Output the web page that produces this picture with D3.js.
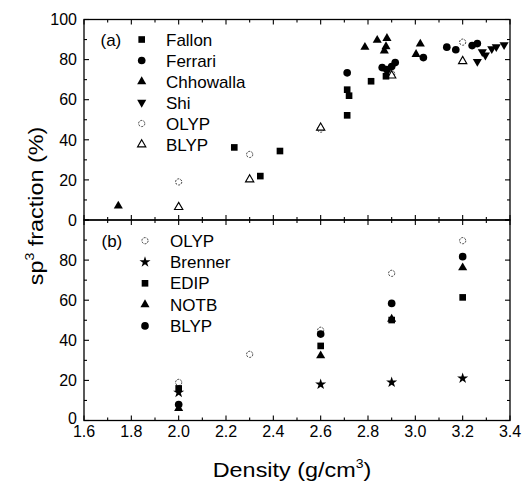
<!DOCTYPE html>
<html><head><meta charset="utf-8">
<script src="https://cdn.jsdelivr.net/npm/d3@7/dist/d3.min.js"></script>
<style>body{margin:0;background:#fff}svg{display:block;font-family:"Liberation Sans",Arial,sans-serif}</style>
</head><body><svg id="c" width="524" height="483"></svg>
<script>
// ---------- data ----------
const xTicks = [1.6,1.8,2.0,2.2,2.4,2.6,2.8,3.0,3.2,3.4];
const yTicksA = [0,20,40,60,80,100];
const yTicksB = [0,20,40,60,80];

// panel (a)
const fallonX = [2.235,2.345,2.428,2.712,2.712,2.72,2.813,2.876];
const fallonY = [36.2,21.9,34.4,52.2,65,62,69.2,71.7];
const ferrariX = [2.712,2.86,2.88,2.9,2.915,3.034,3.133,3.171,3.24,3.262];
const ferrariY = [73.4,76,75,76.5,78.5,81,86.2,84.9,87,88];
const chhowallaX = [1.745,2.787,2.839,2.88,2.876,2.869,3.021,3.003];
const chhowallaY = [7,86.2,89.7,90.6,86.5,84.4,87.8,82.6];
const shiX = [3.262,3.283,3.296,3.323,3.342,3.375];
const shiY = [79,83.9,82.2,85.4,86.4,87.4];
const olypAX = [2.0,2.3,2.6,2.9,3.2];
const olypAY = [19,32.7,45.3,73,88.7];
const blypAX = [2.0,2.3,2.6,2.9,3.2];
const blypAY = [6.4,20.2,46,72,79.2];

// panel (b)
const densB = [2.0,2.6,2.9,3.2];
const olypBX = [2.0,2.3,2.6,2.9,3.2];
const olypBY = [19,33,45,73.4,89.7];
const brennerY = [14,18,19,21];
const edipY = [16,37.2,50.1,61.4];
const notbY = [6,32.3,50.6,76.2];
const blypBY = [8,43.1,58.4,81.7];

const legendA = ["Fallon","Ferrari","Chhowalla","Shi","OLYP","BLYP"];
const legendB = ["OLYP","Brenner","EDIP","NOTB","BLYP"];

// ---------- layout ----------
const svg = d3.select("#c");
const L = 84, R = 510, TA = 19.5, MID = 220, BB = 420.5;
const x = d3.scaleLinear().domain([1.6,3.4]).range([L,R]);
const yA = d3.scaleLinear().domain([0,100]).range([MID,TA]);
const yB = d3.scaleLinear().domain([0,100]).range([BB,MID]);

const FS = 16;
function axes(y, ticks, top, bottom){
  const g = svg.append("g");
  const majX = d3.range(1.6,3.41,0.2), minX = d3.range(1.7,3.4,0.2);
  const majY = d3.range(0,101,20), minY = d3.range(10,100,20);
  const tk = (x1,y1,x2,y2)=>g.append("line").attr("x1",x1).attr("y1",y1).attr("x2",x2).attr("y2",y2).attr("stroke","#000").attr("stroke-width",1.1);
  majX.forEach(v=>{tk(x(v),bottom,x(v),bottom-5); tk(x(v),top,x(v),top+5);});
  minX.forEach(v=>{tk(x(v),bottom,x(v),bottom-3); tk(x(v),top,x(v),top+3);});
  majY.forEach(v=>{tk(L,y(v),L+5,y(v)); tk(R,y(v),R-5,y(v));});
  minY.forEach(v=>{tk(L,y(v),L+3,y(v)); tk(R,y(v),R-3,y(v));});
  g.append("rect").attr("x",L).attr("y",top).attr("width",R-L).attr("height",bottom-top)
    .attr("fill","none").attr("stroke","#000").attr("stroke-width",1.3);
  g.selectAll("text.yl").data(ticks).enter().append("text")
    .attr("x",L-7).attr("y",d=>y(d)-(d===0&&bottom===BB?2:0)).attr("dy","0.36em").attr("text-anchor","end")
    .attr("font-size",FS).text(d=>d);
}
axes(yA, yTicksA, TA, MID);
axes(yB, yTicksB, MID, BB);

svg.selectAll("text.xl").data(xTicks).enter().append("text")
  .attr("x",d=>x(d)).attr("y",437).attr("text-anchor","middle").attr("font-size",FS)
  .text(d=>d.toFixed(1));

// titles
const xt = svg.append("text").attr("transform","translate(292,477) scale(1.17,1)")
  .attr("text-anchor","middle").attr("font-size",20);
xt.append("tspan").text("Density (g/cm");
xt.append("tspan").attr("font-size",12).attr("dy",-9).text("3");
xt.append("tspan").attr("dy",9).text(")");

const yt = svg.append("text").attr("transform","translate(43,206) rotate(-90) scale(1.17,1)")
  .attr("text-anchor","middle").attr("font-size",20);
yt.append("tspan").text("sp");
yt.append("tspan").attr("font-size",12).attr("dy",-9).text("3");
yt.append("tspan").attr("dy",9).text(" fraction (%)");

// ---------- markers ----------
const sym = {
  square: d3.symbol().type(d3.symbolSquare).size(44)(),
  circle: d3.symbol().type(d3.symbolCircle).size(46)(),
  tri: d3.symbol().type(d3.symbolTriangle).size(36)(),
  star: d3.symbol().type(d3.symbolStar).size(38)(),
  ocircle: d3.symbol().type(d3.symbolCircle).size(30)(),
  otri: d3.symbol().type(d3.symbolTriangle).size(30)()
};
function draw(xs, ys, y, kind){
  const g = svg.append("g");
  const pts = xs.map((v,i)=>[v,ys[i]]);
  g.selectAll(null).data(pts).enter().append("path")
    .attr("transform",d=>`translate(${x(d[0])},${y(d[1])})`+(kind==="dtri"?" rotate(180)":""))
    .call(p=>style(p,kind));
}
function style(p, kind){
  const k = kind==="dtri"?"tri":kind;
  p.attr("d",sym[k]);
  if(kind==="ocircle"){p.attr("fill","#fff").attr("stroke","#222").attr("stroke-width",0.9).attr("stroke-dasharray","2,1.2");}
  else if(kind==="otri"){p.attr("fill","#fff").attr("stroke","#000").attr("stroke-width",1.1);}
  else p.attr("fill","#000");
}
// panel a
draw(olypAX, olypAY, yA, "ocircle");
draw(blypAX, blypAY, yA, "otri");
draw(fallonX, fallonY, yA, "square");
draw(ferrariX, ferrariY, yA, "circle");
draw(chhowallaX, chhowallaY, yA, "tri");
draw(shiX, shiY, yA, "dtri");
// panel b
draw(olypBX, olypBY, yB, "ocircle");
draw(densB, brennerY, yB, "star");
draw(densB, edipY, yB, "square");
draw(densB, notbY, yB, "tri");
draw(densB, blypBY, yB, "circle");

// ---------- legends ----------
const kindsA = ["square","circle","tri","dtri","ocircle","otri"];
const kindsB = ["ocircle","star","square","tri","circle"];
function legend(labels, kinds, tag, tx, ty, sx, lx, y0, dy){
  svg.append("text").attr("x",tx).attr("y",ty).attr("dy","0.36em").attr("font-size",17).text(tag);
  labels.forEach((t,i)=>{
    const yy = y0 + i*dy;
    svg.append("path").attr("transform",`translate(${sx},${yy})`+(kinds[i]==="dtri"?" rotate(180)":""))
      .call(p=>style(p,kinds[i]));
    svg.append("text").attr("x",lx).attr("y",yy).attr("dy","0.36em").attr("font-size",17).text(t);
  });
}
legend(legendA, kindsA, "(a)", 100.5, 39.5, 141.7, 166, 39.5, 21);
legend(legendB, kindsB, "(b)", 101.5, 240.7, 145, 170, 240.7, 21.3);
</script></body></html>
